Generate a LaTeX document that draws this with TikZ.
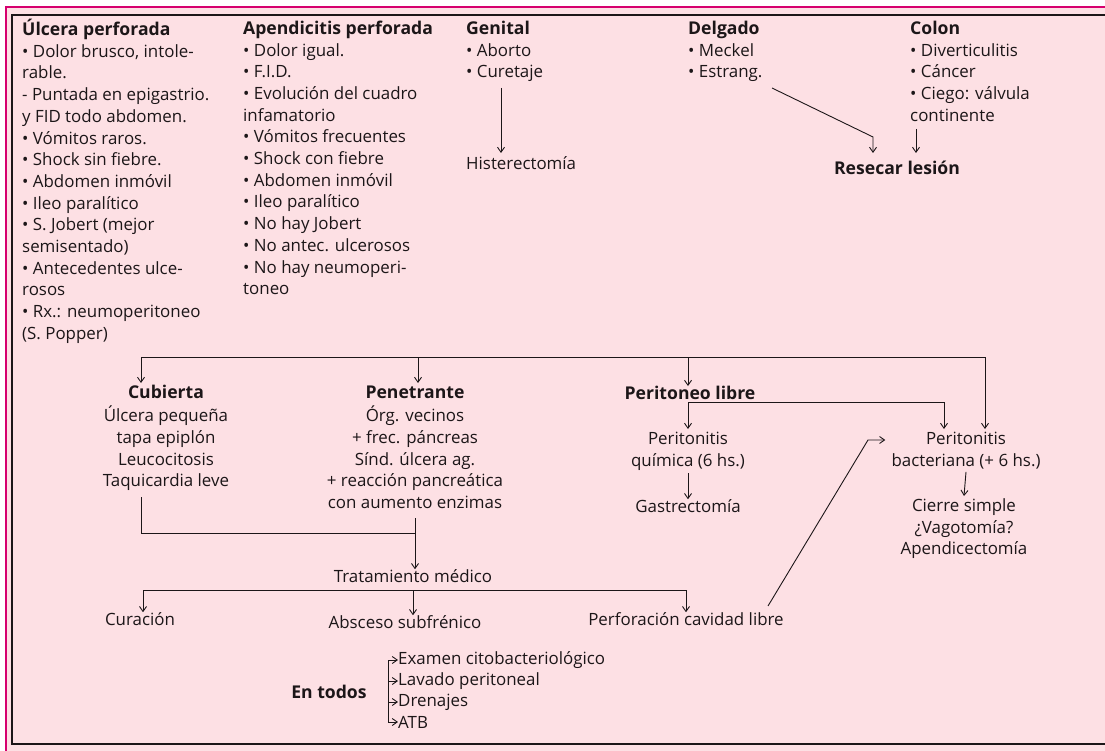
\documentclass[tikz,border=0pt]{standalone}
\usepackage{fontspec}
\setmainfont{Open Sans}
\usetikzlibrary{arrows.meta,calc}
\definecolor{bg}{RGB}{253,224,228}
\definecolor{mag}{RGB}{214,0,110}
\definecolor{ink}{RGB}{28,22,24}
\newcommand{\hb}[1]{{\fontsize{17.6}{21.7}\selectfont\bfseries #1}}
\begin{document}
\begin{tikzpicture}[x=1pt,y=-1pt,
  txt/.style={inner sep=0pt, font=\fontsize{16.9}{21.7}\selectfont, text=ink},
  bft/.style={txt, font=\fontsize{17.6}{21.7}\selectfont\bfseries},
  ln/.style={draw=ink, line width=0.9pt},
  arr/.style={ln, -{Straight Barb[length=5pt,width=7pt]}}]
\useasboundingbox (0,0) rectangle (1105,751);
\fill[white] (0,0) rectangle (1105,751);
\fill[bg] (6,7) rectangle (1105,751);
\draw[mag, line width=2pt] (6,751) -- (6,7) -- (1105,7);
\draw[ink, line width=1.1pt] (1105,15) -- (12,15) -- (12,744) -- (1105,744);

% top columns
\node[txt, align=left, anchor=north west] (c1) at (22,19) {\strut\hb{Úlcera perforada}\\• Dolor brusco, intole-\\rable.\\- Puntada en epigastrio.\\y FID todo abdomen.\\• Vómitos raros.\\• Shock sin fiebre.\\• Abdomen inmóvil\\• Ileo paralítico\\• S. Jobert (mejor\\semisentado)\\• Antecedentes ulce-\\rosos\\• Rx.: neumoperitoneo\\(S. Popper)};
\node[txt, align=left, anchor=north west] (c2) at (243,19) {\strut\hb{Apendicitis perforada}\\• Dolor igual.\\• F.I.D.\\• Evolución del cuadro\\infamatorio\\• Vómitos frecuentes\\• Shock con fiebre\\• Abdomen inmóvil\\• Ileo paralítico\\• No hay Jobert\\• No antec. ulcerosos\\• No hay neumoperi-\\toneo};
\node[txt, align=left, anchor=north west] (c3) at (466,19) {\strut\hb{Genital}\\• Aborto\\• Curetaje};
\node[txt, anchor=west] (hist) at (466,163) {Histerectomía};
\node[txt, align=left, anchor=north west] (c4) at (688,19) {\strut\hb{Delgado}\\• Meckel\\• Estrang.};
\node[txt, align=left, anchor=north west] (c5) at (910,19) {\strut\hb{Colon}\\• Diverticulitis\\• Cáncer\\• Ciego: válvula\\continente};
\node[bft] (res) at (897,168) {Resecar lesión};

\coordinate (g1) at (501,88);
\coordinate (g2) at (501,153);
\draw[arr] (g1) -- (g2);
\coordinate (d1) at (772,88);
\coordinate (d2) at (873,137);
\coordinate (d3) at (873,153);
\draw[arr] (d1) -- (d2) -- (d3);
\coordinate (k1) at (916,129);
\coordinate (k2) at (916,153);
\draw[arr] (k1) -- (k2);

% middle
\coordinate (t0) at (141,357);
\coordinate (t1) at (418,357);
\coordinate (t2) at (688,357);
\coordinate (t3) at (985,357);
\draw[ln] (t0) -- (t3);
\node[txt, align=center, anchor=north] (cub) at (166,383) {\strut\hb{Cubierta}\\Úlcera pequeña\\tapa epiplón\\Leucocitosis\\Taquicardia leve};
\node[txt, align=center, anchor=north] (pen) at (415,383) {\strut\hb{Penetrante}\\Órg. vecinos\\+ frec. páncreas\\Sínd. úlcera ag.\\+ reacción pancreática\\con aumento enzimas};
\node[bft] (pl) at (690,393) {Peritoneo libre};
\draw[arr] (t0) -- (t0 |- cub.north);
\draw[arr] (t1) -- (t1 |- pen.north);
\draw[arr] (t2) -- (t2 |- pl.north);

\node[txt, align=center, anchor=north] (pq) at (688,429) {\strut Peritonitis\\química (6 hs.)};
\node[txt, align=center, anchor=north] (pb) at (966,429) {\strut Peritonitis\\bacteriana (+ 6 hs.)};
\coordinate (l0) at (688,402);
\coordinate (l1) at (944,402);
\draw[ln] (l0) -- (l1);
\draw[arr] (l0) -- (l0 |- pq.north);
\draw[arr] (l1) -- (l1 |- pb.north);
\draw[arr] (t3) -- (t3 |- pb.north);

\node[txt] (gas) at (688,506) {Gastrectomía};
\node[txt, align=center, anchor=north] (cs) at (964,496) {\strut Cierre simple\\¿Vagotomía?\\Apendicectomía};
\draw[arr] ($(pq.south)+(0,3)$) -- (gas.north);
\draw[arr] ($(pb.south)+(0,3)$) -- (cs.north);

% medical treatment
\node[txt] (tm) at (413,576) {Tratamiento médico};
\coordinate (m0) at (141,497);
\coordinate (m1) at (141,533);
\coordinate (m2) at (415,533);
\coordinate (m3) at (415,518);
\draw[ln] (m0) -- (m1) -- (m2);
\draw[arr] (m3) -- (m3 |- tm.north);

\node[txt] (cur) at (140,619) {Curación};
\node[txt] (abs) at (405,622) {Absceso subfrénico};
\node[txt] (perf) at (686,619) {Perforación cavidad libre};
\coordinate (b0) at (143,590);
\coordinate (b1) at (413,590);
\coordinate (b2) at (686,590);
\draw[ln] (b0) -- (b2);
\draw[arr] (b0) -- (b0 |- cur.north);
\draw[arr] (b1) -- (b1 |- abs.north);
\draw[arr] (b2) -- (b2 |- perf.north);

\coordinate (p1) at (868,440);
\coordinate (p0) at (768,606);
\draw[arr] (p0) -- (p1) -- ($(pb.west |- p1)+(-6,0)$);

% en todos
\node[bft] (et) at (329,692) {En todos};
\node[txt, anchor=west] (e1) at (398,660) {Examen citobacteriológico};
\node[txt, anchor=west] (e2) at (398,681) {Lavado peritoneal};
\node[txt, anchor=west] (e3) at (398,702) {Drenajes};
\node[txt, anchor=west] (e4) at (398,722) {ATB};
\coordinate (v0) at (388,660);
\coordinate (v1) at (388,722);
\draw[ln] (v0) -- (v1);
\foreach \n in {e1,e2,e3,e4} \draw[arr] (v0 |- \n.west) -- (\n.west);
\end{tikzpicture}
\end{document}
